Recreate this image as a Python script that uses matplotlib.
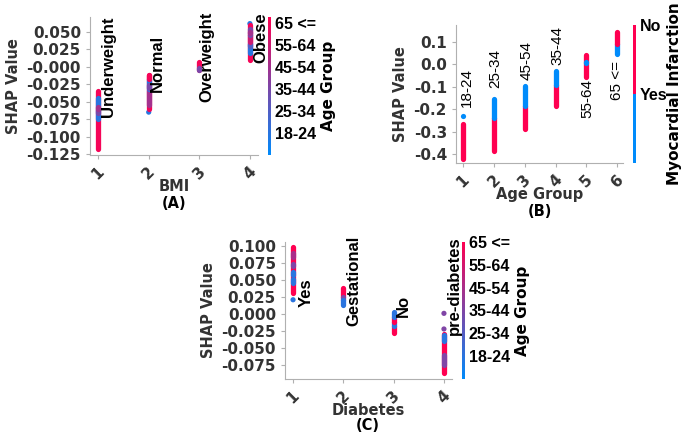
import numpy as np
import matplotlib
matplotlib.use("Agg")
import matplotlib.pyplot as plt
from matplotlib.colors import LinearSegmentedColormap, ListedColormap, Normalize

BLUE = "#008bfb"
RED = "#ff0051"
GRAY = "#333333"
ARIAL = "Liberation Sans"

age_labels = ["18-24", "25-34", "35-44", "45-54", "55-64", "65 <="]

# Panel A: BMI vs SHAP, coloured by age group (1..6); runs of points drawn as segments
a_seg_x = [1, 1, 1, 1, 2, 2, 2, 2, 2, 3, 3, 4, 4, 4, 4, 4, 4]
a_seg_lo = [-0.118, -0.075, -0.066, -0.060, -0.060, -0.055, -0.032, -0.018, -0.030,
            -0.004, -0.004, 0.010, 0.020, 0.030, 0.035, 0.045, 0.048]
a_seg_hi = [-0.034, -0.045, -0.062, -0.057, -0.012, -0.033, -0.018, -0.012, -0.026,
            0.007, -0.002, 0.060, 0.034, 0.033, 0.045, 0.055, 0.050]
a_seg_age = [6, 1, 3, 4, 6, 4, 1, 6, 3, 6, 3, 6, 1, 2, 5, 3, 4]
a_dot_x = [2, 4]
a_dot_y = [-0.065, 0.062]
a_dot_age = [1, 1]
a_ticks = [1, 2, 3, 4]
a_names = ["Underweight", "Normal", "Overweight", "Obese"]

# Panel B: Age group vs SHAP, coloured by myocardial infarction (1 = No, 0 = Yes)
b_seg_x = [1, 2, 2, 3, 3, 4, 4, 5, 5, 6, 6]
b_seg_lo = [-0.420, -0.385, -0.240, -0.290, -0.185, -0.185, -0.090, -0.055, 0.008, 0.045, 0.090]
b_seg_hi = [-0.265, -0.240, -0.155, -0.185, -0.095, -0.090, -0.030, 0.040, 0.011, 0.090, 0.145]
b_seg_mi = [1, 1, 0, 1, 0, 1, 0, 1, 0, 0, 1]
b_dot_x = [1]
b_dot_y = [-0.230]
b_dot_mi = [0]
b_ticks = [1, 2, 3, 4, 5, 6]
b_names = ["18-24", "25-34", "45-54", "35-44", "55-64", "65 <="]

# Panel C: Diabetes vs SHAP, coloured by age group
c_seg_x = [1, 1, 1, 1, 1, 2, 2, 2, 3, 3, 3, 3, 4, 4, 4]
c_seg_lo = [0.031, 0.046, 0.058, 0.070, 0.084, 0.025, 0.020, 0.013, -0.028, -0.018, -0.012, -0.005, -0.087, -0.075, -0.040]
c_seg_hi = [0.099, 0.052, 0.062, 0.074, 0.090, 0.038, 0.025, 0.020, -0.018, -0.012, -0.005, 0.003, -0.029, -0.060, -0.031]
c_seg_age = [6, 1, 1, 3, 4, 6, 3, 1, 6, 1, 6, 1, 6, 3, 1]
c_dot_x = [1, 4, 4]
c_dot_y = [0.021, 0.001, -0.022]
c_dot_age = [1, 3, 3]
c_ticks = [1, 2, 3, 4]
c_names = ["Yes", "Gestational", "No", "pre-diabetes"]

cmap_age = LinearSegmentedColormap.from_list("rb", [BLUE, RED])
cmap_mi = ListedColormap([BLUE, RED])

W, H = 689, 432
fig = plt.figure(figsize=(W / 100, H / 100), dpi=100)


def px_axes(l, t, r, b):
    return fig.add_axes([l / W, 1 - b / H, (r - l) / W, (b - t) / H])


def style(ax, xlabel):
    for s in ["top", "right"]:
        ax.spines[s].set_visible(False)
    for s in ["left", "bottom"]:
        ax.spines[s].set_color("#b0b0b0")
    ax.tick_params(colors="#b0b0b0", labelcolor=GRAY, length=3)
    for lab in ax.get_yticklabels():
        lab.set_fontweight("bold")
        lab.set_fontsize(11)
    for lab in ax.get_xticklabels():
        lab.set_fontweight("bold")
        lab.set_fontsize(11)
        lab.set_rotation(45)
    ax.set_ylabel("SHAP Value", fontsize=10.5, fontweight="bold", color=GRAY)
    ax.set_xlabel(xlabel, fontsize=10.5, fontweight="bold", color=GRAY, labelpad=-2)


def draw(ax, sx, slo, shi, sc, dx, dy, dc, cmap, norm):
    cols = cmap(norm(np.array(sc, dtype=float)))
    ax.vlines(sx, slo, shi, colors=cols, linewidth=3.8, capstyle="round")
    ax.scatter(dx, dy, c=cmap(norm(np.array(dc, dtype=float))), s=14, linewidths=0)


def cbar_style(cax, ticks, labels):
    cax.set_xticks([])
    cax.yaxis.tick_right()
    cax.set_yticks(ticks)
    cax.set_yticklabels(labels, fontsize=11.5, fontweight="bold", family=ARIAL)
    cax.tick_params(length=0, pad=3)
    for s in cax.spines.values():
        s.set_visible(False)


def colorbar(l, t, b, cmap, norm, ticks, labels, title, title_x):
    cax = px_axes(l, t, l + 2.5, b)
    grad = np.linspace(norm.vmin, norm.vmax, 256).reshape(-1, 1)
    cax.imshow(grad, aspect="auto", cmap=cmap, norm=norm, origin="lower",
               extent=[0, 1, norm.vmin, norm.vmax])
    cbar_style(cax, ticks, labels)
    fig.text(title_x / W, 1 - (t + b) / 2 / H, title, rotation=90, ha="center", va="center",
             fontsize=11, fontweight="bold")


# ---- Panel A
axA = px_axes(90, 17, 258, 155)
normA = Normalize(0, 6.25)
draw(axA, a_seg_x, a_seg_lo, a_seg_hi, a_seg_age, a_dot_x, a_dot_y, a_dot_age, cmap_age, normA)
axA.set_xlim(0.84, 4.16)
axA.set_ylim(-0.1265, 0.0715)
axA.set_xticks(a_ticks)
axA.set_yticks(np.arange(-0.125, 0.051, 0.025))
axA.yaxis.set_major_formatter(matplotlib.ticker.FormatStrFormatter("%.3f"))
style(axA, "BMI")
a_txt = [(1.2, -0.072), (2.18, -0.036), (3.15, -0.051), (4.21, 0.0055)]
for name, (x, y) in zip(a_names, a_txt):
    axA.text(x, y, name, rotation=90, ha="center", va="bottom", fontsize=12,
             fontweight="bold", family=ARIAL)
colorbar(268, 17, 155, cmap_age, normA, [1, 2, 3, 4, 5, 6], age_labels, "Age Group", 329)
fig.text(174 / W, 1 - 203 / H, "(A)", ha="center", va="center", fontsize=10.5, fontweight="bold")

# ---- Panel B
axB = px_axes(456, 25, 623, 163)
axB.vlines(b_seg_x, b_seg_lo, b_seg_hi, colors=[RED if v == 1 else BLUE for v in b_seg_mi],
           linewidth=3.8, capstyle="round")
axB.scatter(b_dot_x, b_dot_y, c=[RED if v == 1 else BLUE for v in b_dot_mi], s=14, linewidths=0)
axB.set_xlim(0.77, 6.19)
axB.set_ylim(-0.44, 0.176)
axB.set_xticks(b_ticks)
axB.set_yticks([-0.4, -0.3, -0.2, -0.1, 0.0, 0.1])
axB.yaxis.set_major_formatter(matplotlib.ticker.FormatStrFormatter("%.1f"))
style(axB, "Age Group")
b_txt = [(1.13, -0.19), (2.05, -0.105), (3.07, -0.07), (4.07, -0.003), (5.03, -0.24), (6.0, -0.16)]
for name, (x, y) in zip(b_names, b_txt):
    axB.text(x, y, name, rotation=90, ha="center", va="bottom", fontsize=11, family=ARIAL)
cbB = px_axes(633, 25, 635.5, 163)
cbB.imshow(np.array([[0], [1]]), aspect="auto", cmap=cmap_mi, origin="lower", extent=[0, 1, -1, 1])
cbar_style(cbB, [0, 1], ["Yes", "No"])
fig.text(674 / W, 1 - 94 / H, "Myocardial Infarction", rotation=90, ha="center", va="center",
         fontsize=11, fontweight="bold")
fig.text(540 / W, 1 - 211 / H, "(B)", ha="center", va="center", fontsize=10.5, fontweight="bold")

# ---- Panel C
axC = px_axes(285, 242, 452, 379)
normC = Normalize(0, 6)
draw(axC, c_seg_x, c_seg_lo, c_seg_hi, c_seg_age, c_dot_x, c_dot_y, c_dot_age, cmap_age, normC)
axC.set_xlim(0.84, 4.16)
axC.set_ylim(-0.0956, 0.106)
axC.set_xticks(c_ticks)
axC.set_yticks(np.arange(-0.075, 0.101, 0.025))
axC.yaxis.set_major_formatter(matplotlib.ticker.FormatStrFormatter("%.3f"))
style(axC, "Diabetes")
c_txt = [(1.26, 0.010), (2.21, -0.0176), (3.19, -0.0044), (4.2, -0.031)]
for name, (x, y) in zip(c_names, c_txt):
    axC.text(x, y, name, rotation=90, ha="center", va="bottom", fontsize=12,
             fontweight="bold", family=ARIAL)
colorbar(462, 242, 379, cmap_age, normC, [1, 2, 3, 4, 5, 6], age_labels, "Age Group", 523)
fig.text(368 / W, 1 - 425 / H, "(C)", ha="center", va="center", fontsize=10.5, fontweight="bold")

fig.savefig("out.png", dpi=100)
